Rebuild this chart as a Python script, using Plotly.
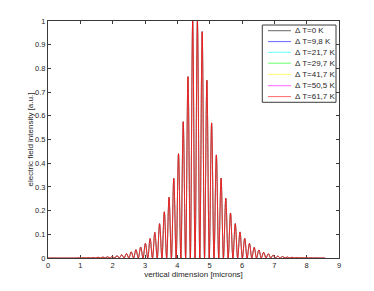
import plotly.graph_objects as go

# ---- data ----
legend_labels = ["Δ T=0 K", "Δ T=9,8 K", "Δ T=21,7 K", "Δ T=29,7 K",
                 "Δ T=41,7 K", "Δ T=50,5 K", "Δ T=61,7 K"]
series_colors = ["#000000", "#0000ff", "#00ffff", "#00ff00",
                 "#ffff00", "#ff00ff", "#ff0000"]

# fringe maxima positions (microns) and heights (a.u.)
peak_x = [0.963, 1.110, 1.256, 1.402, 1.549, 1.695, 1.841, 1.988, 2.134, 2.280,
          2.427, 2.573, 2.719, 2.866, 3.012, 3.158, 3.304, 3.451, 3.597, 3.743,
          3.890, 4.036, 4.182, 4.329, 4.475, 4.621, 4.768, 4.914, 5.060, 5.207,
          5.353, 5.499, 5.645, 5.792, 5.938, 6.084, 6.231, 6.377, 6.523, 6.670,
          6.816, 6.962, 7.108, 7.255, 7.401, 7.547, 7.694, 7.840, 7.986, 8.133,
          8.279]
peak_y = [0.0005, 0.001, 0.0015, 0.002, 0.003, 0.004, 0.005, 0.007, 0.010, 0.014,
          0.019, 0.026, 0.035, 0.046, 0.062, 0.082, 0.108, 0.145, 0.195, 0.256,
          0.336, 0.44, 0.575, 0.765, 1.0, 1.0, 0.955, 0.75, 0.57, 0.435,
          0.337, 0.252, 0.19, 0.145, 0.11, 0.083, 0.062, 0.045, 0.034, 0.024,
          0.018, 0.012, 0.008, 0.006, 0.004, 0.003, 0.002, 0.0015, 0.001, 0.0007,
          0.0005]
# fringe minima positions (microns), intensity zero there
trough_x = [0.890, 1.037, 1.183, 1.329, 1.476, 1.622, 1.768, 1.915, 2.061, 2.207,
            2.354, 2.500, 2.646, 2.793, 2.939, 3.085, 3.231, 3.378, 3.524, 3.670,
            3.817, 3.963, 4.109, 4.256, 4.402, 4.548, 4.695, 4.841, 4.987, 5.134,
            5.280, 5.426, 5.572, 5.719, 5.865, 6.011, 6.158, 6.304, 6.450, 6.597,
            6.743, 6.889, 7.035, 7.182, 7.328, 7.474, 7.621, 7.767, 7.913, 8.060,
            8.206, 8.352]
domain_start = 0.0
domain_end = 8.57

x_ticks = [0, 1, 2, 3, 4, 5, 6, 7, 8, 9]
y_ticks = [0, 0.1, 0.2, 0.3, 0.4, 0.5, 0.6, 0.7, 0.8, 0.9, 1]
y_ticklabels = ["0", "0.1", "0.2", "0.3", "0.4", "0.5", "0.6", "0.7", "0.8", "0.9", "1"]

# ---- build curve from the arrays ----
xs = [domain_start]
ys = [0.0]
for i, tx in enumerate(trough_x):
    xs.append(tx)
    ys.append(0.0)
    if i < len(peak_x):
        xs.append(peak_x[i])
        ys.append(peak_y[i])
xs.append(domain_end)
ys.append(0.0)

FONT = "Liberation Sans, Arial, Helvetica, sans-serif"
TXT = "#262626"
AX = "#3a3a3a"

fig = go.Figure()
n = len(legend_labels)
for i, (lab, col) in enumerate(zip(legend_labels, series_colors)):
    w = 0.75 if i == n - 1 else 0.25
    fig.add_trace(go.Scatter(x=xs, y=ys, mode="lines", name=lab,
                             line=dict(color=col, width=w, shape="spline"),
                             showlegend=False, hoverinfo="skip"))

# manual compact legend (MATLAB style)
box = dict(x0=0.7364, x1=0.9897, y0=0.657, y1=0.983)
fig.add_shape(type="rect", xref="paper", yref="paper",
              x0=box["x0"], x1=box["x1"], y0=box["y0"], y1=box["y1"],
              line=dict(color=AX, width=1), fillcolor="white", layer="above")
row_y = [0.959, 0.913, 0.868, 0.822, 0.775, 0.727, 0.681]
for lab, col, ry in zip(legend_labels, series_colors, row_y):
    fig.add_shape(type="line", xref="paper", yref="paper",
                  x0=0.756, x1=0.835, y0=ry, y1=ry,
                  line=dict(color=col, width=0.6), layer="above")
    fig.add_annotation(xref="paper", yref="paper", x=0.842, y=ry,
                       text=lab, showarrow=False, xanchor="left", yanchor="middle",
                       font=dict(family=FONT, size=8, color=TXT))

axis_common = dict(showline=True, linecolor=AX, linewidth=1, mirror="allticks",
                   ticks="inside", ticklen=3, tickwidth=1, tickcolor=AX,
                   showgrid=False, zeroline=False, layer="below traces",
                   automargin=False,
                   tickfont=dict(family=FONT, size=7.5, color=TXT))

# page body has an 8px margin, so the figure is sized/offset to fit the window
fig.update_layout(
    width=366, height=283,
    margin=dict(l=40, r=35, t=13, b=33, pad=0),
    paper_bgcolor="white", plot_bgcolor="white",
    xaxis=dict(range=[0, 9], tickvals=x_ticks, ticktext=[str(v) for v in x_ticks],
               title=dict(text="vertical dimension [microns]", standoff=2,
                          font=dict(family=FONT, size=8, color=TXT)),
               **axis_common),
    yaxis=dict(range=[0, 1], tickvals=y_ticks, ticktext=y_ticklabels,
               title=dict(text="electric field intensity [a.u.]", standoff=0,
                          font=dict(family=FONT, size=8, color=TXT)),
               **axis_common),
)

fig.write_html("out.html")
